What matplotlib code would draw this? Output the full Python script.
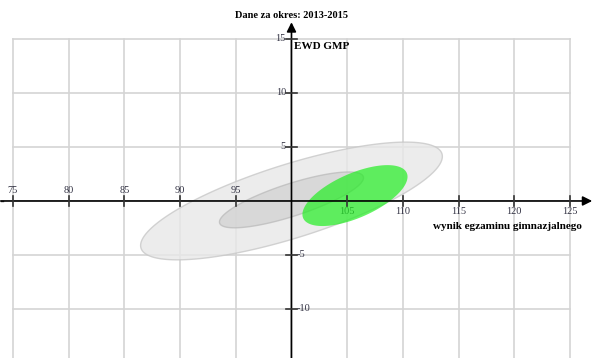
import numpy as np
import matplotlib.pyplot as plt

# axis ticks
x_ticks = [75, 80, 85, 90, 95, 100, 105, 110, 115, 120, 125]
y_ticks = [15, 10, 5, 0, -5, -10]

# ellipses: center x, center y, semi-major, semi-minor, angle (deg)
ellipse_outer = (100.0, 0.0, 14.2, 3.4, 18.0)
ellipse_inner = (100.0, 0.1, 6.8, 1.5, 18.5)
ellipse_school = (105.7, 0.5, 5.1, 2.05, 24.5)

title = "Dane za okres: 2013-2015"
y_label = "EWD GMP"
x_label = "wynik egzaminu gimnazjalnego"

serif = "Liberation Serif"
tick_color = "#333344"
grid_color = "#d4d4d4"
axis_color = "#333333"


def ellipse_points(cx, cy, a, b, ang):
    t = np.linspace(0, 2 * np.pi, 200)
    th = np.deg2rad(ang)
    x = cx + a * np.cos(t) * np.cos(th) - b * np.sin(t) * np.sin(th)
    y = cy + a * np.cos(t) * np.sin(th) + b * np.sin(t) * np.cos(th)
    return x, y


fig = plt.figure(figsize=(5.93, 3.58), dpi=100)
ax = fig.add_axes([0, 0, 1, 1])
ax.set_xlim(73.83, 127.07)
ax.set_ylim(-14.54, 18.61)
ax.axis("off")

# grid
for xv in x_ticks:
    ax.plot([xv, xv], [y_ticks[0], -20], color=grid_color, lw=1.2, zorder=1)
for yv in y_ticks + [-15]:
    ax.plot([x_ticks[0], x_ticks[-1]], [yv, yv], color=grid_color, lw=1.2, zorder=1)

# ellipses
ex, ey = ellipse_points(*ellipse_outer)
ax.fill(ex, ey, facecolor="#e8e8e8", edgecolor="#c8c8c8", lw=1, alpha=0.8, zorder=2)
ex, ey = ellipse_points(*ellipse_inner)
ax.fill(ex, ey, facecolor="#d0d0d0", edgecolor="#b8b8b8", lw=1, alpha=0.7, zorder=3)
ex, ey = ellipse_points(*ellipse_school)
ax.fill(ex, ey, facecolor="#22ee22", edgecolor="none", alpha=0.7, zorder=4)

# axes with arrows
ax.annotate("", xy=(127.0, 0), xytext=(73.9, 0),
            arrowprops=dict(arrowstyle="-|>", color="black", lw=1.2,
                            mutation_scale=14, shrinkA=0, shrinkB=0), zorder=5)
ax.annotate("", xy=(100, 16.55), xytext=(100, -14.6),
            arrowprops=dict(arrowstyle="-|>", color="black", lw=1.2,
                            mutation_scale=14, shrinkA=0, shrinkB=0), zorder=5)

# x ticks
for xv in x_ticks:
    if xv == 100:
        continue
    ax.plot([xv, xv], [-0.5, 0.5], color=axis_color, lw=1.2, zorder=5)
    if xv < 100:
        ax.text(xv, 0.55, str(xv), ha="center", va="bottom", fontsize=7.5,
                family=serif, color=tick_color)
    else:
        ax.text(xv, -0.55, str(xv), ha="center", va="top", fontsize=7.5,
                family=serif, color=tick_color)
ax.plot([73.95, 74.1], [0, 0], color=axis_color, lw=1)

# y ticks
for yv in y_ticks:
    if yv == 0:
        continue
    ax.plot([99.55, 100.45], [yv, yv], color=axis_color, lw=1.2, zorder=5)
    if yv > 0:
        ax.text(99.5, yv, str(yv), ha="right", va="center", fontsize=7.5,
                family=serif, color=tick_color)
    else:
        ax.text(100.5, yv, str(yv), ha="left", va="center", fontsize=7.5,
                family=serif, color=tick_color)

# labels
ax.text(100, 16.8, title, ha="center", va="bottom", fontsize=7.5,
        fontweight="bold", family=serif)
ax.text(100.25, 14.3, y_label, ha="left", va="center", fontsize=8,
        fontweight="bold", family=serif)
ax.text(126.1, -2.35, x_label, ha="right", va="center", fontsize=8,
        fontweight="bold", family=serif)

fig.savefig("out.png", dpi=100)
